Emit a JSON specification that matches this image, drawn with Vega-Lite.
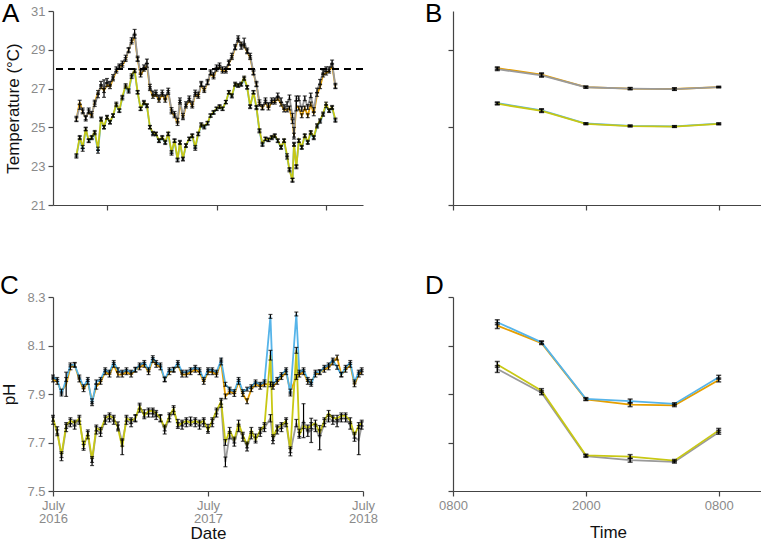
{
"$schema":"https://vega.github.io/schema/vega-lite/v6.json",
"padding":{"left":0,"top":0,"right":0,"bottom":0},
"columns":2,
"spacing":{"row":61,"column":47},
"config":{
 "font":"Liberation Sans",
 "view":{"stroke":null},
 "axis":{"grid":false,"domainColor":"#444","domainWidth":1.2,"tickColor":"#444","tickWidth":1.2,"tickSize":5,"labelColor":"#8a8a8a","labelFontSize":13,"labelFont":"Liberation Sans","titleFont":"Liberation Sans","titleFontSize":17,"titleFontWeight":"normal","titleColor":"#111","labelPadding":3,"labelOverlap":false},
 "title":{"fontSize":26,"fontWeight":"normal","anchor":"start","frame":"group","font":"Liberation Sans","color":"#000","offset":0}
},
"datasets":{
"temp":[
{"date":"2016-03-21","trt":"Heated","temp":25.4,"se":0.1},{"date":"2016-03-21","trt":"Acidified+Heated","temp":25.45,"se":0.12},{"date":"2016-03-21","trt":"Control","temp":23.5,"se":0.08},{"date":"2016-03-21","trt":"Acidified","temp":23.56,"se":0.08},
{"date":"2016-04-01","trt":"Heated","temp":26.3,"se":0.1},{"date":"2016-04-01","trt":"Acidified+Heated","temp":26.05,"se":0.12},{"date":"2016-04-01","trt":"Control","temp":24.45,"se":0.08},{"date":"2016-04-01","trt":"Acidified","temp":24.5,"se":0.08},
{"date":"2016-04-11","trt":"Heated","temp":25.8,"se":0.1},{"date":"2016-04-11","trt":"Acidified+Heated","temp":25.88,"se":0.12},{"date":"2016-04-11","trt":"Control","temp":23.85,"se":0.08},{"date":"2016-04-11","trt":"Acidified","temp":23.99,"se":0.08},
{"date":"2016-04-21","trt":"Heated","temp":25.5,"se":0.1},{"date":"2016-04-21","trt":"Acidified+Heated","temp":25.45,"se":0.12},{"date":"2016-04-21","trt":"Control","temp":24.9,"se":0.08},{"date":"2016-04-21","trt":"Acidified","temp":24.93,"se":0.08},
{"date":"2016-05-01","trt":"Heated","temp":25.8,"se":0.1},{"date":"2016-05-01","trt":"Acidified+Heated","temp":25.88,"se":0.12},{"date":"2016-05-01","trt":"Control","temp":24.3,"se":0.08},{"date":"2016-05-01","trt":"Acidified","temp":24.33,"se":0.08},
{"date":"2016-05-11","trt":"Heated","temp":25.6,"se":0.1},{"date":"2016-05-11","trt":"Acidified+Heated","temp":25.7,"se":0.12},{"date":"2016-05-11","trt":"Control","temp":24.45,"se":0.08},{"date":"2016-05-11","trt":"Acidified","temp":24.5,"se":0.08},
{"date":"2016-05-21","trt":"Heated","temp":26.3,"se":0.1},{"date":"2016-05-21","trt":"Acidified+Heated","temp":26.2,"se":0.12},{"date":"2016-05-21","trt":"Control","temp":24.7,"se":0.08},{"date":"2016-05-21","trt":"Acidified","temp":24.76,"se":0.08},
{"date":"2016-06-01","trt":"Heated","temp":26.8,"se":0.1},{"date":"2016-06-01","trt":"Acidified+Heated","temp":26.65,"se":0.12},{"date":"2016-06-01","trt":"Control","temp":23.75,"se":0.08},{"date":"2016-06-01","trt":"Acidified","temp":23.9,"se":0.08},
{"date":"2016-06-11","trt":"Heated","temp":27.1,"se":0.1},{"date":"2016-06-11","trt":"Acidified+Heated","temp":27.25,"se":0.12},{"date":"2016-06-11","trt":"Control","temp":25.4,"se":0.08},{"date":"2016-06-11","trt":"Acidified","temp":25.45,"se":0.08},
{"date":"2016-06-21","trt":"Heated","temp":26.9,"se":0.1},{"date":"2016-06-21","trt":"Acidified+Heated","temp":27.0,"se":0.45},{"date":"2016-06-21","trt":"Control","temp":25.0,"se":0.08},{"date":"2016-06-21","trt":"Acidified","temp":25.02,"se":0.08},
{"date":"2016-07-01","trt":"Heated","temp":27.2,"se":0.1},{"date":"2016-07-01","trt":"Acidified+Heated","temp":27.4,"se":0.12},{"date":"2016-07-01","trt":"Control","temp":25.5,"se":0.08},{"date":"2016-07-01","trt":"Acidified","temp":25.54,"se":0.08},
{"date":"2016-07-11","trt":"Heated","temp":27.1,"se":0.1},{"date":"2016-07-11","trt":"Acidified+Heated","temp":27.25,"se":0.12},{"date":"2016-07-11","trt":"Control","temp":25.25,"se":0.08},{"date":"2016-07-11","trt":"Acidified","temp":25.28,"se":0.08},
{"date":"2016-07-21","trt":"Heated","temp":27.5,"se":0.1},{"date":"2016-07-21","trt":"Acidified+Heated","temp":27.6,"se":0.12},{"date":"2016-07-21","trt":"Control","temp":25.6,"se":0.08},{"date":"2016-07-21","trt":"Acidified","temp":25.62,"se":0.08},
{"date":"2016-08-01","trt":"Heated","temp":27.9,"se":0.1},{"date":"2016-08-01","trt":"Acidified+Heated","temp":28.0,"se":0.12},{"date":"2016-08-01","trt":"Control","temp":26.15,"se":0.08},{"date":"2016-08-01","trt":"Acidified","temp":26.22,"se":0.08},
{"date":"2016-08-11","trt":"Heated","temp":28.1,"se":0.1},{"date":"2016-08-11","trt":"Acidified+Heated","temp":28.15,"se":0.12},{"date":"2016-08-11","trt":"Control","temp":25.85,"se":0.08},{"date":"2016-08-11","trt":"Acidified","temp":25.88,"se":0.08},
{"date":"2016-08-21","trt":"Heated","temp":28.2,"se":0.1},{"date":"2016-08-21","trt":"Acidified+Heated","temp":28.3,"se":0.12},{"date":"2016-08-21","trt":"Control","temp":26.5,"se":0.08},{"date":"2016-08-21","trt":"Acidified","temp":26.57,"se":0.08},
{"date":"2016-09-01","trt":"Heated","temp":28.5,"se":0.1},{"date":"2016-09-01","trt":"Acidified+Heated","temp":28.6,"se":0.12},{"date":"2016-09-01","trt":"Control","temp":27.1,"se":0.08},{"date":"2016-09-01","trt":"Acidified","temp":27.17,"se":0.08},
{"date":"2016-09-11","trt":"Heated","temp":29.0,"se":0.1},{"date":"2016-09-11","trt":"Acidified+Heated","temp":28.97,"se":0.12},{"date":"2016-09-11","trt":"Control","temp":26.85,"se":0.08},{"date":"2016-09-11","trt":"Acidified","temp":26.91,"se":0.08},
{"date":"2016-09-21","trt":"Heated","temp":29.4,"se":0.1},{"date":"2016-09-21","trt":"Acidified+Heated","temp":29.5,"se":0.12},{"date":"2016-09-21","trt":"Control","temp":27.6,"se":0.08},{"date":"2016-09-21","trt":"Acidified","temp":27.68,"se":0.08},
{"date":"2016-10-01","trt":"Heated","temp":29.7,"se":0.1},{"date":"2016-10-01","trt":"Acidified+Heated","temp":29.9,"se":0.15},{"date":"2016-10-01","trt":"Control","temp":27.9,"se":0.08},{"date":"2016-10-01","trt":"Acidified","temp":27.94,"se":0.08},
{"date":"2016-10-11","trt":"Heated","temp":28.5,"se":0.1},{"date":"2016-10-11","trt":"Acidified+Heated","temp":28.55,"se":0.12},{"date":"2016-10-11","trt":"Control","temp":26.8,"se":0.08},{"date":"2016-10-11","trt":"Acidified","temp":26.82,"se":0.08},
{"date":"2016-10-21","trt":"Heated","temp":27.7,"se":0.1},{"date":"2016-10-21","trt":"Acidified+Heated","temp":27.85,"se":0.12},{"date":"2016-10-21","trt":"Control","temp":25.95,"se":0.08},{"date":"2016-10-21","trt":"Acidified","temp":25.97,"se":0.08},
{"date":"2016-11-01","trt":"Heated","temp":28.0,"se":0.1},{"date":"2016-11-01","trt":"Acidified+Heated","temp":28.1,"se":0.12},{"date":"2016-11-01","trt":"Control","temp":26.25,"se":0.08},{"date":"2016-11-01","trt":"Acidified","temp":26.31,"se":0.08},
{"date":"2016-11-11","trt":"Heated","temp":28.2,"se":0.1},{"date":"2016-11-11","trt":"Acidified+Heated","temp":28.4,"se":0.12},{"date":"2016-11-11","trt":"Control","temp":26.1,"se":0.08},{"date":"2016-11-11","trt":"Acidified","temp":26.14,"se":0.08},
{"date":"2016-11-21","trt":"Heated","temp":27.0,"se":0.1},{"date":"2016-11-21","trt":"Acidified+Heated","temp":27.1,"se":0.12},{"date":"2016-11-21","trt":"Control","temp":25.0,"se":0.08},{"date":"2016-11-21","trt":"Acidified","temp":25.02,"se":0.08},
{"date":"2016-12-01","trt":"Heated","temp":26.6,"se":0.1},{"date":"2016-12-01","trt":"Acidified+Heated","temp":26.75,"se":0.12},{"date":"2016-12-01","trt":"Control","temp":24.65,"se":0.08},{"date":"2016-12-01","trt":"Acidified","temp":24.71,"se":0.08},
{"date":"2016-12-11","trt":"Heated","temp":26.7,"se":0.1},{"date":"2016-12-11","trt":"Acidified+Heated","temp":26.8,"se":0.12},{"date":"2016-12-11","trt":"Control","temp":24.65,"se":0.08},{"date":"2016-12-11","trt":"Acidified","temp":24.68,"se":0.08},
{"date":"2016-12-21","trt":"Heated","temp":26.4,"se":0.1},{"date":"2016-12-21","trt":"Acidified+Heated","temp":26.55,"se":0.12},{"date":"2016-12-21","trt":"Control","temp":24.3,"se":0.08},{"date":"2016-12-21","trt":"Acidified","temp":24.33,"se":0.08},
{"date":"2017-01-01","trt":"Heated","temp":26.7,"se":0.1},{"date":"2017-01-01","trt":"Acidified+Heated","temp":26.8,"se":0.12},{"date":"2017-01-01","trt":"Control","temp":24.45,"se":0.08},{"date":"2017-01-01","trt":"Acidified","temp":24.5,"se":0.08},
{"date":"2017-01-11","trt":"Heated","temp":26.4,"se":0.1},{"date":"2017-01-11","trt":"Acidified+Heated","temp":26.55,"se":0.12},{"date":"2017-01-11","trt":"Control","temp":24.2,"se":0.08},{"date":"2017-01-11","trt":"Acidified","temp":24.25,"se":0.08},
{"date":"2017-01-21","trt":"Heated","temp":26.8,"se":0.1},{"date":"2017-01-21","trt":"Acidified+Heated","temp":26.9,"se":0.12},{"date":"2017-01-21","trt":"Control","temp":24.65,"se":0.08},{"date":"2017-01-21","trt":"Acidified","temp":24.68,"se":0.08},
{"date":"2017-02-01","trt":"Heated","temp":25.8,"se":0.1},{"date":"2017-02-01","trt":"Acidified+Heated","temp":25.9,"se":0.12},{"date":"2017-02-01","trt":"Control","temp":23.65,"se":0.08},{"date":"2017-02-01","trt":"Acidified","temp":23.73,"se":0.08},
{"date":"2017-02-11","trt":"Heated","temp":25.6,"se":0.1},{"date":"2017-02-11","trt":"Acidified+Heated","temp":25.7,"se":0.12},{"date":"2017-02-11","trt":"Control","temp":24.3,"se":0.08},{"date":"2017-02-11","trt":"Acidified","temp":24.33,"se":0.08},
{"date":"2017-02-21","trt":"Heated","temp":25.2,"se":0.1},{"date":"2017-02-21","trt":"Acidified+Heated","temp":25.35,"se":0.12},{"date":"2017-02-21","trt":"Control","temp":23.3,"se":0.08},{"date":"2017-02-21","trt":"Acidified","temp":23.34,"se":0.08},
{"date":"2017-03-01","trt":"Heated","temp":26.3,"se":0.1},{"date":"2017-03-01","trt":"Acidified+Heated","temp":26.4,"se":0.12},{"date":"2017-03-01","trt":"Control","temp":24.2,"se":0.08},{"date":"2017-03-01","trt":"Acidified","temp":24.25,"se":0.08},
{"date":"2017-03-11","trt":"Heated","temp":25.5,"se":0.1},{"date":"2017-03-11","trt":"Acidified+Heated","temp":25.6,"se":0.12},{"date":"2017-03-11","trt":"Control","temp":23.35,"se":0.08},{"date":"2017-03-11","trt":"Acidified","temp":23.39,"se":0.08},
{"date":"2017-03-21","trt":"Heated","temp":26.1,"se":0.1},{"date":"2017-03-21","trt":"Acidified+Heated","temp":26.2,"se":0.12},{"date":"2017-03-21","trt":"Control","temp":24.05,"se":0.08},{"date":"2017-03-21","trt":"Acidified","temp":24.08,"se":0.08},
{"date":"2017-04-01","trt":"Heated","temp":26.4,"se":0.1},{"date":"2017-04-01","trt":"Acidified+Heated","temp":26.5,"se":0.12},{"date":"2017-04-01","trt":"Control","temp":24.4,"se":0.08},{"date":"2017-04-01","trt":"Acidified","temp":24.42,"se":0.08},
{"date":"2017-04-11","trt":"Heated","temp":26.1,"se":0.1},{"date":"2017-04-11","trt":"Acidified+Heated","temp":26.2,"se":0.12},{"date":"2017-04-11","trt":"Control","temp":24.55,"se":0.08},{"date":"2017-04-11","trt":"Acidified","temp":24.59,"se":0.08},
{"date":"2017-04-21","trt":"Heated","temp":26.7,"se":0.1},{"date":"2017-04-21","trt":"Acidified+Heated","temp":26.8,"se":0.12},{"date":"2017-04-21","trt":"Control","temp":23.9,"se":0.08},{"date":"2017-04-21","trt":"Acidified","temp":23.99,"se":0.08},
{"date":"2017-05-01","trt":"Heated","temp":26.6,"se":0.1},{"date":"2017-05-01","trt":"Acidified+Heated","temp":26.7,"se":0.12},{"date":"2017-05-01","trt":"Control","temp":24.65,"se":0.08},{"date":"2017-05-01","trt":"Acidified","temp":24.68,"se":0.08},
{"date":"2017-05-11","trt":"Heated","temp":27.2,"se":0.1},{"date":"2017-05-11","trt":"Acidified+Heated","temp":27.25,"se":0.12},{"date":"2017-05-11","trt":"Control","temp":25.1,"se":0.08},{"date":"2017-05-11","trt":"Acidified","temp":25.16,"se":0.08},
{"date":"2017-05-21","trt":"Heated","temp":26.9,"se":0.1},{"date":"2017-05-21","trt":"Acidified+Heated","temp":27.0,"se":0.12},{"date":"2017-05-21","trt":"Control","temp":25.0,"se":0.08},{"date":"2017-05-21","trt":"Acidified","temp":25.05,"se":0.08},
{"date":"2017-06-01","trt":"Heated","temp":27.3,"se":0.1},{"date":"2017-06-01","trt":"Acidified+Heated","temp":27.35,"se":0.12},{"date":"2017-06-01","trt":"Control","temp":25.2,"se":0.08},{"date":"2017-06-01","trt":"Acidified","temp":25.23,"se":0.08},
{"date":"2017-06-11","trt":"Heated","temp":27.8,"se":0.1},{"date":"2017-06-11","trt":"Acidified+Heated","temp":27.85,"se":0.12},{"date":"2017-06-11","trt":"Control","temp":25.6,"se":0.08},{"date":"2017-06-11","trt":"Acidified","temp":25.62,"se":0.08},
{"date":"2017-06-21","trt":"Heated","temp":27.6,"se":0.1},{"date":"2017-06-21","trt":"Acidified+Heated","temp":27.7,"se":0.12},{"date":"2017-06-21","trt":"Control","temp":25.75,"se":0.08},{"date":"2017-06-21","trt":"Acidified","temp":25.79,"se":0.08},
{"date":"2017-07-01","trt":"Heated","temp":28.0,"se":0.1},{"date":"2017-07-01","trt":"Acidified+Heated","temp":28.1,"se":0.12},{"date":"2017-07-01","trt":"Control","temp":25.95,"se":0.08},{"date":"2017-07-01","trt":"Acidified","temp":25.97,"se":0.08},
{"date":"2017-07-11","trt":"Heated","temp":28.1,"se":0.1},{"date":"2017-07-11","trt":"Acidified+Heated","temp":28.2,"se":0.12},{"date":"2017-07-11","trt":"Control","temp":26.05,"se":0.08},{"date":"2017-07-11","trt":"Acidified","temp":26.09,"se":0.08},
{"date":"2017-07-21","trt":"Heated","temp":27.9,"se":0.1},{"date":"2017-07-21","trt":"Acidified+Heated","temp":28.0,"se":0.12},{"date":"2017-07-21","trt":"Control","temp":25.95,"se":0.08},{"date":"2017-07-21","trt":"Acidified","temp":25.97,"se":0.08},
{"date":"2017-08-01","trt":"Heated","temp":27.9,"se":0.1},{"date":"2017-08-01","trt":"Acidified+Heated","temp":28.0,"se":0.12},{"date":"2017-08-01","trt":"Control","temp":26.3,"se":0.08},{"date":"2017-08-01","trt":"Acidified","temp":26.31,"se":0.08},
{"date":"2017-08-11","trt":"Heated","temp":28.3,"se":0.1},{"date":"2017-08-11","trt":"Acidified+Heated","temp":28.35,"se":0.12},{"date":"2017-08-11","trt":"Control","temp":26.8,"se":0.08},{"date":"2017-08-11","trt":"Acidified","temp":26.82,"se":0.08},
{"date":"2017-08-21","trt":"Heated","temp":28.6,"se":0.1},{"date":"2017-08-21","trt":"Acidified+Heated","temp":28.7,"se":0.12},{"date":"2017-08-21","trt":"Control","temp":26.6,"se":0.08},{"date":"2017-08-21","trt":"Acidified","temp":26.65,"se":0.08},
{"date":"2017-09-01","trt":"Heated","temp":29.1,"se":0.1},{"date":"2017-09-01","trt":"Acidified+Heated","temp":29.15,"se":0.12},{"date":"2017-09-01","trt":"Control","temp":27.2,"se":0.08},{"date":"2017-09-01","trt":"Acidified","temp":27.25,"se":0.08},
{"date":"2017-09-11","trt":"Heated","temp":29.5,"se":0.1},{"date":"2017-09-11","trt":"Acidified+Heated","temp":29.6,"se":0.12},{"date":"2017-09-11","trt":"Control","temp":27.15,"se":0.08},{"date":"2017-09-11","trt":"Acidified","temp":27.17,"se":0.08},
{"date":"2017-09-21","trt":"Heated","temp":29.3,"se":0.1},{"date":"2017-09-21","trt":"Acidified+Heated","temp":29.15,"se":0.12},{"date":"2017-09-21","trt":"Control","temp":27.2,"se":0.08},{"date":"2017-09-21","trt":"Acidified","temp":27.25,"se":0.08},
{"date":"2017-10-01","trt":"Heated","temp":29.2,"se":0.1},{"date":"2017-10-01","trt":"Acidified+Heated","temp":29.4,"se":0.2},{"date":"2017-10-01","trt":"Control","temp":27.5,"se":0.08},{"date":"2017-10-01","trt":"Acidified","temp":27.56,"se":0.08},
{"date":"2017-10-11","trt":"Heated","temp":28.9,"se":0.1},{"date":"2017-10-11","trt":"Acidified+Heated","temp":28.97,"se":0.12},{"date":"2017-10-11","trt":"Control","temp":27.05,"se":0.08},{"date":"2017-10-11","trt":"Acidified","temp":27.08,"se":0.08},
{"date":"2017-10-21","trt":"Heated","temp":28.6,"se":0.1},{"date":"2017-10-21","trt":"Acidified+Heated","temp":28.7,"se":0.12},{"date":"2017-10-21","trt":"Control","temp":26.05,"se":0.08},{"date":"2017-10-21","trt":"Acidified","temp":26.09,"se":0.08},
{"date":"2017-11-01","trt":"Heated","temp":27.8,"se":0.1},{"date":"2017-11-01","trt":"Acidified+Heated","temp":27.85,"se":0.12},{"date":"2017-11-01","trt":"Control","temp":26.8,"se":0.08},{"date":"2017-11-01","trt":"Acidified","temp":26.82,"se":0.08},
{"date":"2017-11-11","trt":"Heated","temp":27.2,"se":0.1},{"date":"2017-11-11","trt":"Acidified+Heated","temp":27.25,"se":0.12},{"date":"2017-11-11","trt":"Control","temp":26.0,"se":0.08},{"date":"2017-11-11","trt":"Acidified","temp":26.05,"se":0.08},
{"date":"2017-11-21","trt":"Heated","temp":26.2,"se":0.1},{"date":"2017-11-21","trt":"Acidified+Heated","temp":26.3,"se":0.12},{"date":"2017-11-21","trt":"Control","temp":24.8,"se":0.08},{"date":"2017-11-21","trt":"Acidified","temp":24.85,"se":0.08},
{"date":"2017-12-01","trt":"Heated","temp":26.0,"se":0.1},{"date":"2017-12-01","trt":"Acidified+Heated","temp":26.05,"se":0.12},{"date":"2017-12-01","trt":"Control","temp":24.1,"se":0.08},{"date":"2017-12-01","trt":"Acidified","temp":24.16,"se":0.08},
{"date":"2017-12-11","trt":"Heated","temp":26.3,"se":0.1},{"date":"2017-12-11","trt":"Acidified+Heated","temp":26.4,"se":0.12},{"date":"2017-12-11","trt":"Control","temp":24.4,"se":0.08},{"date":"2017-12-11","trt":"Acidified","temp":24.42,"se":0.08},
{"date":"2017-12-21","trt":"Heated","temp":26.0,"se":0.1},{"date":"2017-12-21","trt":"Acidified+Heated","temp":26.15,"se":0.12},{"date":"2017-12-21","trt":"Control","temp":24.35,"se":0.08},{"date":"2017-12-21","trt":"Acidified","temp":24.37,"se":0.08},
{"date":"2018-01-01","trt":"Heated","temp":26.3,"se":0.1},{"date":"2018-01-01","trt":"Acidified+Heated","temp":26.4,"se":0.12},{"date":"2018-01-01","trt":"Control","temp":24.45,"se":0.08},{"date":"2018-01-01","trt":"Acidified","temp":24.5,"se":0.08},
{"date":"2018-01-11","trt":"Heated","temp":26.3,"se":0.1},{"date":"2018-01-11","trt":"Acidified+Heated","temp":26.4,"se":0.12},{"date":"2018-01-11","trt":"Control","temp":24.55,"se":0.08},{"date":"2018-01-11","trt":"Acidified","temp":24.59,"se":0.08},
{"date":"2018-01-21","trt":"Heated","temp":26.5,"se":0.1},{"date":"2018-01-21","trt":"Acidified+Heated","temp":26.65,"se":0.12},{"date":"2018-01-21","trt":"Control","temp":24.3,"se":0.08},{"date":"2018-01-21","trt":"Acidified","temp":24.33,"se":0.08},
{"date":"2018-02-01","trt":"Heated","temp":26.2,"se":0.1},{"date":"2018-02-01","trt":"Acidified+Heated","temp":26.4,"se":0.12},{"date":"2018-02-01","trt":"Control","temp":23.95,"se":0.08},{"date":"2018-02-01","trt":"Acidified","temp":23.99,"se":0.08},
{"date":"2018-02-11","trt":"Heated","temp":25.9,"se":0.1},{"date":"2018-02-11","trt":"Acidified+Heated","temp":26.05,"se":0.12},{"date":"2018-02-11","trt":"Control","temp":24.3,"se":0.08},{"date":"2018-02-11","trt":"Acidified","temp":24.33,"se":0.08},
{"date":"2018-02-21","trt":"Heated","temp":25.9,"se":0.1},{"date":"2018-02-21","trt":"Acidified+Heated","temp":26.2,"se":0.12},{"date":"2018-02-21","trt":"Control","temp":23.45,"se":0.08},{"date":"2018-02-21","trt":"Acidified","temp":23.56,"se":0.08},
{"date":"2018-03-01","trt":"Heated","temp":26.0,"se":0.1},{"date":"2018-03-01","trt":"Acidified+Heated","temp":26.55,"se":0.12},{"date":"2018-03-01","trt":"Control","temp":22.85,"se":0.08},{"date":"2018-03-01","trt":"Acidified","temp":22.79,"se":0.08},
{"date":"2018-03-11","trt":"Heated","temp":25.3,"se":0.1},{"date":"2018-03-11","trt":"Acidified+Heated","temp":25.6,"se":0.12},{"date":"2018-03-11","trt":"Control","temp":22.3,"se":0.08},{"date":"2018-03-11","trt":"Acidified","temp":22.27,"se":0.1},
{"date":"2018-03-16","trt":"Heated","temp":24.6,"se":0.1},{"date":"2018-03-16","trt":"Acidified+Heated","temp":24.7,"se":0.3},{"date":"2018-03-16","trt":"Control","temp":24.1,"se":0.08},{"date":"2018-03-16","trt":"Acidified","temp":24.15,"se":0.08},
{"date":"2018-03-24","trt":"Heated","temp":26.1,"se":0.25},{"date":"2018-03-24","trt":"Acidified+Heated","temp":26.5,"se":0.12},{"date":"2018-03-24","trt":"Control","temp":23.0,"se":0.08},{"date":"2018-03-24","trt":"Acidified","temp":22.95,"se":0.08},
{"date":"2018-04-01","trt":"Heated","temp":26.0,"se":0.1},{"date":"2018-04-01","trt":"Acidified+Heated","temp":26.5,"se":0.12},{"date":"2018-04-01","trt":"Control","temp":24.3,"se":0.08},{"date":"2018-04-01","trt":"Acidified","temp":24.33,"se":0.08},
{"date":"2018-04-11","trt":"Heated","temp":25.6,"se":0.1},{"date":"2018-04-11","trt":"Acidified+Heated","temp":25.95,"se":0.12},{"date":"2018-04-11","trt":"Control","temp":23.95,"se":0.08},{"date":"2018-04-11","trt":"Acidified","temp":23.99,"se":0.08},
{"date":"2018-04-21","trt":"Heated","temp":26.0,"se":0.1},{"date":"2018-04-21","trt":"Acidified+Heated","temp":26.5,"se":0.12},{"date":"2018-04-21","trt":"Control","temp":24.55,"se":0.08},{"date":"2018-04-21","trt":"Acidified","temp":24.59,"se":0.08},
{"date":"2018-05-01","trt":"Heated","temp":25.6,"se":0.1},{"date":"2018-05-01","trt":"Acidified+Heated","temp":26.05,"se":0.12},{"date":"2018-05-01","trt":"Control","temp":24.2,"se":0.08},{"date":"2018-05-01","trt":"Acidified","temp":24.25,"se":0.08},
{"date":"2018-05-11","trt":"Heated","temp":26.2,"se":0.1},{"date":"2018-05-11","trt":"Acidified+Heated","temp":26.65,"se":0.12},{"date":"2018-05-11","trt":"Control","temp":24.7,"se":0.08},{"date":"2018-05-11","trt":"Acidified","temp":24.76,"se":0.08},
{"date":"2018-05-21","trt":"Heated","temp":25.7,"se":0.1},{"date":"2018-05-21","trt":"Acidified+Heated","temp":25.9,"se":0.12},{"date":"2018-05-21","trt":"Control","temp":24.45,"se":0.08},{"date":"2018-05-21","trt":"Acidified","temp":24.5,"se":0.08},
{"date":"2018-06-01","trt":"Heated","temp":26.7,"se":0.1},{"date":"2018-06-01","trt":"Acidified+Heated","temp":26.9,"se":0.12},{"date":"2018-06-01","trt":"Control","temp":25.05,"se":0.08},{"date":"2018-06-01","trt":"Acidified","temp":25.11,"se":0.08},
{"date":"2018-06-11","trt":"Heated","temp":27.1,"se":0.1},{"date":"2018-06-11","trt":"Acidified+Heated","temp":27.35,"se":0.12},{"date":"2018-06-11","trt":"Control","temp":25.3,"se":0.08},{"date":"2018-06-11","trt":"Acidified","temp":25.36,"se":0.08},
{"date":"2018-06-21","trt":"Heated","temp":27.7,"se":0.1},{"date":"2018-06-21","trt":"Acidified+Heated","temp":27.85,"se":0.12},{"date":"2018-06-21","trt":"Control","temp":25.65,"se":0.08},{"date":"2018-06-21","trt":"Acidified","temp":25.71,"se":0.08},
{"date":"2018-07-01","trt":"Heated","temp":27.8,"se":0.1},{"date":"2018-07-01","trt":"Acidified+Heated","temp":28.0,"se":0.12},{"date":"2018-07-01","trt":"Control","temp":26.1,"se":0.08},{"date":"2018-07-01","trt":"Acidified","temp":26.22,"se":0.08},
{"date":"2018-07-11","trt":"Heated","temp":27.9,"se":0.1},{"date":"2018-07-11","trt":"Acidified+Heated","temp":28.0,"se":0.12},{"date":"2018-07-11","trt":"Control","temp":25.85,"se":0.08},{"date":"2018-07-11","trt":"Acidified","temp":25.88,"se":0.08},
{"date":"2018-07-21","trt":"Heated","temp":28.2,"se":0.1},{"date":"2018-07-21","trt":"Acidified+Heated","temp":28.35,"se":0.12},{"date":"2018-07-21","trt":"Control","temp":26.0,"se":0.08},{"date":"2018-07-21","trt":"Acidified","temp":26.05,"se":0.08},
{"date":"2018-08-01","trt":"Heated","temp":27.1,"se":0.1},{"date":"2018-08-01","trt":"Acidified+Heated","temp":27.15,"se":0.12},{"date":"2018-08-01","trt":"Control","temp":25.35,"se":0.08},{"date":"2018-08-01","trt":"Acidified","temp":25.4,"se":0.08}
],
"ph":[
{"date":"2016-07-01","trt":"Heated","pH":7.96,"se":0.01},{"date":"2016-07-01","trt":"Acidified+Heated","pH":7.79,"se":0.015},{"date":"2016-07-01","trt":"Control","pH":7.97,"se":0.008},{"date":"2016-07-01","trt":"Acidified","pH":7.8,"se":0.012},
{"date":"2016-07-11","trt":"Heated","pH":7.95,"se":0.01},{"date":"2016-07-11","trt":"Acidified+Heated","pH":7.75,"se":0.015},{"date":"2016-07-11","trt":"Control","pH":7.96,"se":0.008},{"date":"2016-07-11","trt":"Acidified","pH":7.74,"se":0.012},
{"date":"2016-07-21","trt":"Heated","pH":7.91,"se":0.01},{"date":"2016-07-21","trt":"Acidified+Heated","pH":7.64,"se":0.015},{"date":"2016-07-21","trt":"Control","pH":7.9,"se":0.008},{"date":"2016-07-21","trt":"Acidified","pH":7.65,"se":0.012},
{"date":"2016-08-01","trt":"Heated","pH":7.94,"se":0.05},{"date":"2016-08-01","trt":"Acidified+Heated","pH":7.76,"se":0.015},{"date":"2016-08-01","trt":"Control","pH":7.96,"se":0.008},{"date":"2016-08-01","trt":"Acidified","pH":7.77,"se":0.012},
{"date":"2016-08-11","trt":"Heated","pH":8.01,"se":0.01},{"date":"2016-08-11","trt":"Acidified+Heated","pH":7.78,"se":0.015},{"date":"2016-08-11","trt":"Control","pH":8.02,"se":0.008},{"date":"2016-08-11","trt":"Acidified","pH":7.79,"se":0.012},
{"date":"2016-08-21","trt":"Heated","pH":8.02,"se":0.01},{"date":"2016-08-21","trt":"Acidified+Heated","pH":7.77,"se":0.015},{"date":"2016-08-21","trt":"Control","pH":8.02,"se":0.008},{"date":"2016-08-21","trt":"Acidified","pH":7.78,"se":0.012},
{"date":"2016-09-01","trt":"Heated","pH":7.96,"se":0.01},{"date":"2016-09-01","trt":"Acidified+Heated","pH":7.79,"se":0.015},{"date":"2016-09-01","trt":"Control","pH":7.97,"se":0.008},{"date":"2016-09-01","trt":"Acidified","pH":7.8,"se":0.012},
{"date":"2016-09-11","trt":"Heated","pH":7.92,"se":0.01},{"date":"2016-09-11","trt":"Acidified+Heated","pH":7.69,"se":0.015},{"date":"2016-09-11","trt":"Control","pH":7.93,"se":0.008},{"date":"2016-09-11","trt":"Acidified","pH":7.68,"se":0.012},
{"date":"2016-09-21","trt":"Heated","pH":7.95,"se":0.01},{"date":"2016-09-21","trt":"Acidified+Heated","pH":7.73,"se":0.015},{"date":"2016-09-21","trt":"Control","pH":7.96,"se":0.008},{"date":"2016-09-21","trt":"Acidified","pH":7.74,"se":0.012},
{"date":"2016-10-01","trt":"Heated","pH":7.87,"se":0.01},{"date":"2016-10-01","trt":"Acidified+Heated","pH":7.62,"se":0.015},{"date":"2016-10-01","trt":"Control","pH":7.86,"se":0.008},{"date":"2016-10-01","trt":"Acidified","pH":7.63,"se":0.012},
{"date":"2016-10-11","trt":"Heated","pH":7.93,"se":0.01},{"date":"2016-10-11","trt":"Acidified+Heated","pH":7.75,"se":0.015},{"date":"2016-10-11","trt":"Control","pH":7.95,"se":0.008},{"date":"2016-10-11","trt":"Acidified","pH":7.76,"se":0.012},
{"date":"2016-10-21","trt":"Heated","pH":7.95,"se":0.01},{"date":"2016-10-21","trt":"Acidified+Heated","pH":7.74,"se":0.015},{"date":"2016-10-21","trt":"Control","pH":7.96,"se":0.008},{"date":"2016-10-21","trt":"Acidified","pH":7.75,"se":0.012},
{"date":"2016-11-01","trt":"Heated","pH":7.99,"se":0.01},{"date":"2016-11-01","trt":"Acidified+Heated","pH":7.79,"se":0.015},{"date":"2016-11-01","trt":"Control","pH":8.0,"se":0.008},{"date":"2016-11-01","trt":"Acidified","pH":7.8,"se":0.012},
{"date":"2016-11-11","trt":"Heated","pH":7.98,"se":0.01},{"date":"2016-11-11","trt":"Acidified+Heated","pH":7.8,"se":0.015},{"date":"2016-11-11","trt":"Control","pH":7.99,"se":0.008},{"date":"2016-11-11","trt":"Acidified","pH":7.81,"se":0.012},
{"date":"2016-11-21","trt":"Heated","pH":8.02,"se":0.01},{"date":"2016-11-21","trt":"Acidified+Heated","pH":7.79,"se":0.015},{"date":"2016-11-21","trt":"Control","pH":8.03,"se":0.008},{"date":"2016-11-21","trt":"Acidified","pH":7.8,"se":0.012},
{"date":"2016-12-01","trt":"Heated","pH":7.98,"se":0.01},{"date":"2016-12-01","trt":"Acidified+Heated","pH":7.77,"se":0.015},{"date":"2016-12-01","trt":"Control","pH":8.0,"se":0.008},{"date":"2016-12-01","trt":"Acidified","pH":7.76,"se":0.012},
{"date":"2016-12-11","trt":"Heated","pH":7.98,"se":0.01},{"date":"2016-12-11","trt":"Acidified+Heated","pH":7.7,"se":0.015},{"date":"2016-12-11","trt":"Control","pH":7.99,"se":0.008},{"date":"2016-12-11","trt":"Acidified","pH":7.68,"se":0.03},
{"date":"2016-12-21","trt":"Heated","pH":7.99,"se":0.01},{"date":"2016-12-21","trt":"Acidified+Heated","pH":7.79,"se":0.015},{"date":"2016-12-21","trt":"Control","pH":8.0,"se":0.008},{"date":"2016-12-21","trt":"Acidified","pH":7.8,"se":0.012},
{"date":"2017-01-01","trt":"Heated","pH":7.98,"se":0.01},{"date":"2017-01-01","trt":"Acidified+Heated","pH":7.78,"se":0.015},{"date":"2017-01-01","trt":"Control","pH":7.99,"se":0.008},{"date":"2017-01-01","trt":"Acidified","pH":7.79,"se":0.012},
{"date":"2017-01-11","trt":"Heated","pH":8.0,"se":0.01},{"date":"2017-01-11","trt":"Acidified+Heated","pH":7.8,"se":0.015},{"date":"2017-01-11","trt":"Control","pH":8.0,"se":0.008},{"date":"2017-01-11","trt":"Acidified","pH":7.8,"se":0.012},
{"date":"2017-01-21","trt":"Heated","pH":8.01,"se":0.01},{"date":"2017-01-21","trt":"Acidified+Heated","pH":7.84,"se":0.015},{"date":"2017-01-21","trt":"Control","pH":8.02,"se":0.008},{"date":"2017-01-21","trt":"Acidified","pH":7.85,"se":0.012},
{"date":"2017-02-01","trt":"Heated","pH":8.02,"se":0.01},{"date":"2017-02-01","trt":"Acidified+Heated","pH":7.82,"se":0.015},{"date":"2017-02-01","trt":"Control","pH":8.03,"se":0.008},{"date":"2017-02-01","trt":"Acidified","pH":7.81,"se":0.012},
{"date":"2017-02-11","trt":"Heated","pH":7.99,"se":0.01},{"date":"2017-02-11","trt":"Acidified+Heated","pH":7.82,"se":0.015},{"date":"2017-02-11","trt":"Control","pH":8.0,"se":0.008},{"date":"2017-02-11","trt":"Acidified","pH":7.83,"se":0.012},
{"date":"2017-02-21","trt":"Heated","pH":8.04,"se":0.01},{"date":"2017-02-21","trt":"Acidified+Heated","pH":7.82,"se":0.015},{"date":"2017-02-21","trt":"Control","pH":8.05,"se":0.008},{"date":"2017-02-21","trt":"Acidified","pH":7.83,"se":0.012},
{"date":"2017-03-01","trt":"Heated","pH":8.02,"se":0.01},{"date":"2017-03-01","trt":"Acidified+Heated","pH":7.81,"se":0.015},{"date":"2017-03-01","trt":"Control","pH":8.03,"se":0.008},{"date":"2017-03-01","trt":"Acidified","pH":7.82,"se":0.012},
{"date":"2017-03-11","trt":"Heated","pH":8.01,"se":0.01},{"date":"2017-03-11","trt":"Acidified+Heated","pH":7.8,"se":0.015},{"date":"2017-03-11","trt":"Control","pH":8.02,"se":0.008},{"date":"2017-03-11","trt":"Acidified","pH":7.8,"se":0.012},
{"date":"2017-03-21","trt":"Heated","pH":7.96,"se":0.01},{"date":"2017-03-21","trt":"Acidified+Heated","pH":7.75,"se":0.015},{"date":"2017-03-21","trt":"Control","pH":7.96,"se":0.008},{"date":"2017-03-21","trt":"Acidified","pH":7.76,"se":0.012},
{"date":"2017-04-01","trt":"Heated","pH":7.99,"se":0.01},{"date":"2017-04-01","trt":"Acidified+Heated","pH":7.8,"se":0.015},{"date":"2017-04-01","trt":"Control","pH":8.0,"se":0.008},{"date":"2017-04-01","trt":"Acidified","pH":7.81,"se":0.012},
{"date":"2017-04-11","trt":"Heated","pH":8.0,"se":0.01},{"date":"2017-04-11","trt":"Acidified+Heated","pH":7.83,"se":0.015},{"date":"2017-04-11","trt":"Control","pH":8.0,"se":0.008},{"date":"2017-04-11","trt":"Acidified","pH":7.84,"se":0.012},
{"date":"2017-04-21","trt":"Heated","pH":8.02,"se":0.01},{"date":"2017-04-21","trt":"Acidified+Heated","pH":7.78,"se":0.015},{"date":"2017-04-21","trt":"Control","pH":8.03,"se":0.008},{"date":"2017-04-21","trt":"Acidified","pH":7.77,"se":0.012},
{"date":"2017-05-01","trt":"Heated","pH":7.98,"se":0.01},{"date":"2017-05-01","trt":"Acidified+Heated","pH":7.77,"se":0.015},{"date":"2017-05-01","trt":"Control","pH":7.99,"se":0.008},{"date":"2017-05-01","trt":"Acidified","pH":7.78,"se":0.012},
{"date":"2017-05-11","trt":"Heated","pH":7.98,"se":0.01},{"date":"2017-05-11","trt":"Acidified+Heated","pH":7.78,"se":0.015},{"date":"2017-05-11","trt":"Control","pH":7.99,"se":0.008},{"date":"2017-05-11","trt":"Acidified","pH":7.79,"se":0.012},
{"date":"2017-05-21","trt":"Heated","pH":7.99,"se":0.01},{"date":"2017-05-21","trt":"Acidified+Heated","pH":7.79,"se":0.015},{"date":"2017-05-21","trt":"Control","pH":8.0,"se":0.008},{"date":"2017-05-21","trt":"Acidified","pH":7.78,"se":0.012},
{"date":"2017-06-01","trt":"Heated","pH":8.0,"se":0.01},{"date":"2017-06-01","trt":"Acidified+Heated","pH":7.78,"se":0.015},{"date":"2017-06-01","trt":"Control","pH":8.01,"se":0.008},{"date":"2017-06-01","trt":"Acidified","pH":7.79,"se":0.012},
{"date":"2017-06-11","trt":"Heated","pH":7.99,"se":0.01},{"date":"2017-06-11","trt":"Acidified+Heated","pH":7.77,"se":0.015},{"date":"2017-06-11","trt":"Control","pH":8.0,"se":0.008},{"date":"2017-06-11","trt":"Acidified","pH":7.78,"se":0.012},
{"date":"2017-06-21","trt":"Heated","pH":7.95,"se":0.01},{"date":"2017-06-21","trt":"Acidified+Heated","pH":7.78,"se":0.015},{"date":"2017-06-21","trt":"Control","pH":7.96,"se":0.008},{"date":"2017-06-21","trt":"Acidified","pH":7.79,"se":0.012},
{"date":"2017-07-01","trt":"Heated","pH":7.99,"se":0.01},{"date":"2017-07-01","trt":"Acidified+Heated","pH":7.76,"se":0.015},{"date":"2017-07-01","trt":"Control","pH":8.0,"se":0.008},{"date":"2017-07-01","trt":"Acidified","pH":7.75,"se":0.012},
{"date":"2017-07-11","trt":"Heated","pH":7.99,"se":0.01},{"date":"2017-07-11","trt":"Acidified+Heated","pH":7.78,"se":0.015},{"date":"2017-07-11","trt":"Control","pH":8.0,"se":0.008},{"date":"2017-07-11","trt":"Acidified","pH":7.79,"se":0.012},
{"date":"2017-07-21","trt":"Heated","pH":7.98,"se":0.01},{"date":"2017-07-21","trt":"Acidified+Heated","pH":7.82,"se":0.015},{"date":"2017-07-21","trt":"Control","pH":7.99,"se":0.008},{"date":"2017-07-21","trt":"Acidified","pH":7.83,"se":0.012},
{"date":"2017-08-01","trt":"Heated","pH":8.03,"se":0.01},{"date":"2017-08-01","trt":"Acidified+Heated","pH":7.86,"se":0.015},{"date":"2017-08-01","trt":"Control","pH":8.04,"se":0.008},{"date":"2017-08-01","trt":"Acidified","pH":7.87,"se":0.012},
{"date":"2017-08-11","trt":"Heated","pH":7.89,"se":0.01},{"date":"2017-08-11","trt":"Acidified+Heated","pH":7.62,"se":0.02},{"date":"2017-08-11","trt":"Control","pH":7.94,"se":0.008},{"date":"2017-08-11","trt":"Acidified","pH":7.7,"se":0.012},
{"date":"2017-08-21","trt":"Heated","pH":7.91,"se":0.01},{"date":"2017-08-21","trt":"Acidified+Heated","pH":7.73,"se":0.015},{"date":"2017-08-21","trt":"Control","pH":7.92,"se":0.008},{"date":"2017-08-21","trt":"Acidified","pH":7.75,"se":0.012},
{"date":"2017-09-01","trt":"Heated","pH":7.9,"se":0.01},{"date":"2017-09-01","trt":"Acidified+Heated","pH":7.7,"se":0.015},{"date":"2017-09-01","trt":"Control","pH":7.91,"se":0.008},{"date":"2017-09-01","trt":"Acidified","pH":7.71,"se":0.012},
{"date":"2017-09-11","trt":"Heated","pH":7.95,"se":0.01},{"date":"2017-09-11","trt":"Acidified+Heated","pH":7.76,"se":0.015},{"date":"2017-09-11","trt":"Control","pH":7.96,"se":0.008},{"date":"2017-09-11","trt":"Acidified","pH":7.78,"se":0.012},
{"date":"2017-09-21","trt":"Heated","pH":7.9,"se":0.01},{"date":"2017-09-21","trt":"Acidified+Heated","pH":7.72,"se":0.015},{"date":"2017-09-21","trt":"Control","pH":7.91,"se":0.008},{"date":"2017-09-21","trt":"Acidified","pH":7.73,"se":0.012},
{"date":"2017-10-01","trt":"Heated","pH":7.87,"se":0.01},{"date":"2017-10-01","trt":"Acidified+Heated","pH":7.68,"se":0.015},{"date":"2017-10-01","trt":"Control","pH":7.92,"se":0.008},{"date":"2017-10-01","trt":"Acidified","pH":7.69,"se":0.012},
{"date":"2017-10-11","trt":"Heated","pH":7.92,"se":0.01},{"date":"2017-10-11","trt":"Acidified+Heated","pH":7.73,"se":0.015},{"date":"2017-10-11","trt":"Control","pH":7.93,"se":0.008},{"date":"2017-10-11","trt":"Acidified","pH":7.75,"se":0.012},
{"date":"2017-10-21","trt":"Heated","pH":7.94,"se":0.01},{"date":"2017-10-21","trt":"Acidified+Heated","pH":7.72,"se":0.015},{"date":"2017-10-21","trt":"Control","pH":7.95,"se":0.008},{"date":"2017-10-21","trt":"Acidified","pH":7.71,"se":0.012},
{"date":"2017-11-01","trt":"Heated","pH":7.93,"se":0.01},{"date":"2017-11-01","trt":"Acidified+Heated","pH":7.74,"se":0.015},{"date":"2017-11-01","trt":"Control","pH":7.94,"se":0.008},{"date":"2017-11-01","trt":"Acidified","pH":7.75,"se":0.012},
{"date":"2017-11-11","trt":"Heated","pH":7.94,"se":0.01},{"date":"2017-11-11","trt":"Acidified+Heated","pH":7.76,"se":0.015},{"date":"2017-11-11","trt":"Control","pH":7.95,"se":0.008},{"date":"2017-11-11","trt":"Acidified","pH":7.77,"se":0.012},
{"date":"2017-11-25","trt":"Heated","pH":7.94,"se":0.01},{"date":"2017-11-25","trt":"Acidified+Heated","pH":7.8,"se":0.015},{"date":"2017-11-25","trt":"Control","pH":8.22,"se":0.008},{"date":"2017-11-25","trt":"Acidified","pH":8.06,"se":0.02},
{"date":"2017-12-01","trt":"Heated","pH":7.93,"se":0.01},{"date":"2017-12-01","trt":"Acidified+Heated","pH":7.71,"se":0.015},{"date":"2017-12-01","trt":"Control","pH":7.94,"se":0.008},{"date":"2017-12-01","trt":"Acidified","pH":7.72,"se":0.012},
{"date":"2017-12-11","trt":"Heated","pH":7.95,"se":0.01},{"date":"2017-12-11","trt":"Acidified+Heated","pH":7.75,"se":0.015},{"date":"2017-12-11","trt":"Control","pH":7.96,"se":0.008},{"date":"2017-12-11","trt":"Acidified","pH":7.76,"se":0.012},
{"date":"2017-12-21","trt":"Heated","pH":7.97,"se":0.01},{"date":"2017-12-21","trt":"Acidified+Heated","pH":7.76,"se":0.015},{"date":"2017-12-21","trt":"Control","pH":7.98,"se":0.008},{"date":"2017-12-21","trt":"Acidified","pH":7.77,"se":0.012},
{"date":"2018-01-01","trt":"Heated","pH":7.99,"se":0.01},{"date":"2018-01-01","trt":"Acidified+Heated","pH":7.78,"se":0.015},{"date":"2018-01-01","trt":"Control","pH":8.0,"se":0.008},{"date":"2018-01-01","trt":"Acidified","pH":7.79,"se":0.012},
{"date":"2018-01-11","trt":"Heated","pH":7.91,"se":0.01},{"date":"2018-01-11","trt":"Acidified+Heated","pH":7.66,"se":0.015},{"date":"2018-01-11","trt":"Control","pH":7.9,"se":0.008},{"date":"2018-01-11","trt":"Acidified","pH":7.67,"se":0.012},
{"date":"2018-01-25","trt":"Heated","pH":7.97,"se":0.01},{"date":"2018-01-25","trt":"Acidified+Heated","pH":7.78,"se":0.015},{"date":"2018-01-25","trt":"Control","pH":8.23,"se":0.008},{"date":"2018-01-25","trt":"Acidified","pH":8.08,"se":0.012},
{"date":"2018-02-01","trt":"Heated","pH":7.98,"se":0.01},{"date":"2018-02-01","trt":"Acidified+Heated","pH":7.74,"se":0.015},{"date":"2018-02-01","trt":"Control","pH":7.99,"se":0.008},{"date":"2018-02-01","trt":"Acidified","pH":7.73,"se":0.012},
{"date":"2018-02-11","trt":"Heated","pH":7.99,"se":0.01},{"date":"2018-02-11","trt":"Acidified+Heated","pH":7.79,"se":0.07},{"date":"2018-02-11","trt":"Control","pH":8.0,"se":0.008},{"date":"2018-02-11","trt":"Acidified","pH":7.77,"se":0.012},
{"date":"2018-02-21","trt":"Heated","pH":7.95,"se":0.01},{"date":"2018-02-21","trt":"Acidified+Heated","pH":7.74,"se":0.015},{"date":"2018-02-21","trt":"Control","pH":7.96,"se":0.008},{"date":"2018-02-21","trt":"Acidified","pH":7.76,"se":0.012},
{"date":"2018-03-01","trt":"Heated","pH":7.95,"se":0.01},{"date":"2018-03-01","trt":"Acidified+Heated","pH":7.75,"se":0.05},{"date":"2018-03-01","trt":"Control","pH":7.94,"se":0.008},{"date":"2018-03-01","trt":"Acidified","pH":7.77,"se":0.012},
{"date":"2018-03-11","trt":"Heated","pH":7.98,"se":0.01},{"date":"2018-03-11","trt":"Acidified+Heated","pH":7.76,"se":0.015},{"date":"2018-03-11","trt":"Control","pH":7.99,"se":0.008},{"date":"2018-03-11","trt":"Acidified","pH":7.78,"se":0.012},
{"date":"2018-03-21","trt":"Heated","pH":7.99,"se":0.01},{"date":"2018-03-21","trt":"Acidified+Heated","pH":7.72,"se":0.05},{"date":"2018-03-21","trt":"Control","pH":7.99,"se":0.008},{"date":"2018-03-21","trt":"Acidified","pH":7.74,"se":0.012},
{"date":"2018-04-01","trt":"Heated","pH":8.0,"se":0.01},{"date":"2018-04-01","trt":"Acidified+Heated","pH":7.78,"se":0.015},{"date":"2018-04-01","trt":"Control","pH":8.01,"se":0.008},{"date":"2018-04-01","trt":"Acidified","pH":7.79,"se":0.012},
{"date":"2018-04-11","trt":"Heated","pH":8.01,"se":0.01},{"date":"2018-04-11","trt":"Acidified+Heated","pH":7.8,"se":0.015},{"date":"2018-04-11","trt":"Control","pH":8.02,"se":0.008},{"date":"2018-04-11","trt":"Acidified","pH":7.82,"se":0.012},
{"date":"2018-04-21","trt":"Heated","pH":8.03,"se":0.01},{"date":"2018-04-21","trt":"Acidified+Heated","pH":7.79,"se":0.015},{"date":"2018-04-21","trt":"Control","pH":8.04,"se":0.008},{"date":"2018-04-21","trt":"Acidified","pH":7.8,"se":0.012},
{"date":"2018-05-01","trt":"Heated","pH":8.05,"se":0.01},{"date":"2018-05-01","trt":"Acidified+Heated","pH":7.78,"se":0.015},{"date":"2018-05-01","trt":"Control","pH":8.01,"se":0.008},{"date":"2018-05-01","trt":"Acidified","pH":7.8,"se":0.012},
{"date":"2018-05-11","trt":"Heated","pH":7.98,"se":0.01},{"date":"2018-05-11","trt":"Acidified+Heated","pH":7.8,"se":0.015},{"date":"2018-05-11","trt":"Control","pH":7.98,"se":0.008},{"date":"2018-05-11","trt":"Acidified","pH":7.81,"se":0.012},
{"date":"2018-05-21","trt":"Heated","pH":8.0,"se":0.01},{"date":"2018-05-21","trt":"Acidified+Heated","pH":7.8,"se":0.015},{"date":"2018-05-21","trt":"Control","pH":8.01,"se":0.008},{"date":"2018-05-21","trt":"Acidified","pH":7.81,"se":0.012},
{"date":"2018-06-01","trt":"Heated","pH":8.02,"se":0.01},{"date":"2018-06-01","trt":"Acidified+Heated","pH":7.77,"se":0.015},{"date":"2018-06-01","trt":"Control","pH":8.03,"se":0.008},{"date":"2018-06-01","trt":"Acidified","pH":7.79,"se":0.012},
{"date":"2018-06-11","trt":"Heated","pH":7.94,"se":0.01},{"date":"2018-06-11","trt":"Acidified+Heated","pH":7.72,"se":0.015},{"date":"2018-06-11","trt":"Control","pH":7.95,"se":0.008},{"date":"2018-06-11","trt":"Acidified","pH":7.73,"se":0.012},
{"date":"2018-06-21","trt":"Heated","pH":7.98,"se":0.01},{"date":"2018-06-21","trt":"Acidified+Heated","pH":7.71,"se":0.06},{"date":"2018-06-21","trt":"Control","pH":7.99,"se":0.008},{"date":"2018-06-21","trt":"Acidified","pH":7.77,"se":0.012},
{"date":"2018-06-28","trt":"Heated","pH":7.99,"se":0.01},{"date":"2018-06-28","trt":"Acidified+Heated","pH":7.77,"se":0.015},{"date":"2018-06-28","trt":"Control","pH":8.0,"se":0.008},{"date":"2018-06-28","trt":"Acidified","pH":7.78,"se":0.012}
],
"tempDiel":[
{"h":4,"trt":"Heated","temp":28.05,"se":0.07},{"h":4,"trt":"Acidified+Heated","temp":28.0,"se":0.07},{"h":4,"trt":"Control","temp":26.25,"se":0.06},{"h":4,"trt":"Acidified","temp":26.22,"se":0.06},
{"h":8,"trt":"Heated","temp":27.72,"se":0.09},{"h":8,"trt":"Acidified+Heated","temp":27.68,"se":0.09},{"h":8,"trt":"Control","temp":25.88,"se":0.08},{"h":8,"trt":"Acidified","temp":25.85,"se":0.08},
{"h":12,"trt":"Heated","temp":27.08,"se":0.05},{"h":12,"trt":"Acidified+Heated","temp":27.07,"se":0.05},{"h":12,"trt":"Control","temp":25.2,"se":0.04},{"h":12,"trt":"Acidified","temp":25.18,"se":0.04},
{"h":16,"trt":"Heated","temp":27.0,"se":0.05},{"h":16,"trt":"Acidified+Heated","temp":27.0,"se":0.05},{"h":16,"trt":"Control","temp":25.08,"se":0.04},{"h":16,"trt":"Acidified","temp":25.07,"se":0.04},
{"h":20,"trt":"Heated","temp":26.98,"se":0.06},{"h":20,"trt":"Acidified+Heated","temp":26.97,"se":0.06},{"h":20,"trt":"Control","temp":25.05,"se":0.04},{"h":20,"trt":"Acidified","temp":25.04,"se":0.04},
{"h":24,"trt":"Heated","temp":27.08,"se":0.03},{"h":24,"trt":"Acidified+Heated","temp":27.08,"se":0.03},{"h":24,"trt":"Control","temp":25.19,"se":0.04},{"h":24,"trt":"Acidified","temp":25.18,"se":0.04}
],
"phDiel":[
{"h":4,"trt":"Heated","pH":8.182,"se":0.012},{"h":4,"trt":"Acidified+Heated","pH":8.003,"se":0.014},{"h":4,"trt":"Control","pH":8.196,"se":0.01},{"h":4,"trt":"Acidified","pH":8.022,"se":0.012},
{"h":8,"trt":"Heated","pH":8.11,"se":0.006},{"h":8,"trt":"Acidified+Heated","pH":7.905,"se":0.008},{"h":8,"trt":"Control","pH":8.113,"se":0.006},{"h":8,"trt":"Acidified","pH":7.914,"se":0.008},
{"h":12,"trt":"Heated","pH":7.878,"se":0.005},{"h":12,"trt":"Acidified+Heated","pH":7.644,"se":0.005},{"h":12,"trt":"Control","pH":7.88,"se":0.005},{"h":12,"trt":"Acidified","pH":7.647,"se":0.005},
{"h":16,"trt":"Heated","pH":7.856,"se":0.008},{"h":16,"trt":"Acidified+Heated","pH":7.627,"se":0.008},{"h":16,"trt":"Control","pH":7.871,"se":0.008},{"h":16,"trt":"Acidified","pH":7.642,"se":0.008},
{"h":20,"trt":"Heated","pH":7.853,"se":0.005},{"h":20,"trt":"Acidified+Heated","pH":7.62,"se":0.005},{"h":20,"trt":"Control","pH":7.859,"se":0.005},{"h":20,"trt":"Acidified","pH":7.625,"se":0.005},
{"h":24,"trt":"Heated","pH":7.958,"se":0.008},{"h":24,"trt":"Acidified+Heated","pH":7.742,"se":0.008},{"h":24,"trt":"Control","pH":7.969,"se":0.008},{"h":24,"trt":"Acidified","pH":7.75,"se":0.008}
]
},
"concat":[
{
 "width":310,"height":194,
 "title":{"text":"A","dx":-51,"dy":25.5},
 "data":{"name":"temp"},
 "layer":[
  {"mark":{"type":"line","strokeWidth":1.8},
   "encoding":{
    "x":{"field":"date","type":"temporal","scale":{"domain":[{"year":2016,"month":1,"date":3},{"year":2018,"month":11,"date":1}]},"axis":{"values":[{"year":2016,"month":7,"date":1},{"year":2017,"month":7,"date":1},{"year":2018,"month":7,"date":1}],"labels":false,"title":null}},
    "y":{"field":"temp","type":"quantitative","title":"Temperature (°C)","scale":{"domain":[21,31]},"axis":{"values":[21,23,25,27,29,31],"labelOverlap":false,"titlePadding":8}},
    "color":{"field":"trt","type":"nominal","scale":{"domain":["Heated","Acidified+Heated","Control","Acidified"],"range":["#E69F00","#9a9a9a","#56B4E9","#C8C814"]},"legend":null}}},
  {"mark":{"type":"errorbar","ticks":true,"size":4,"thickness":1.2,"color":"#000"},
   "encoding":{"x":{"field":"date","type":"temporal"},"y":{"field":"temp","type":"quantitative","title":"Temperature (°C)","axis":{"values":[21,23,25,27,29,31],"labelOverlap":false,"titlePadding":8}},"yError":{"field":"se"}}},
  {"mark":{"type":"rule","strokeDash":[7,5],"strokeWidth":1.6,"color":"#000"},"encoding":{"y":{"datum":28,"type":"quantitative","axis":{"values":[21,23,25,27,29,31],"labelOverlap":false,"titlePadding":8}}}}
 ]
},
{
 "width":310,"height":194,
 "title":{"text":"B","dx":-28,"dy":20},
 "data":{"name":"tempDiel"},
 "layer":[
  {"mark":{"type":"line","strokeWidth":1.8},
   "encoding":{
    "x":{"field":"h","type":"quantitative","scale":{"domain":[0,28]},"axis":{"values":[0,12,24],"labels":false,"title":null}},
    "y":{"field":"temp","type":"quantitative","scale":{"domain":[21,31]},"axis":{"values":[21,23,25,27,29,31],"labels":false,"title":null}},
    "color":{"field":"trt","type":"nominal","scale":{"domain":["Heated","Acidified+Heated","Control","Acidified"],"range":["#E69F00","#9a9a9a","#56B4E9","#C8C814"]},"legend":null}}},
  {"mark":{"type":"errorbar","ticks":true,"size":5,"thickness":1.5,"color":"#000"},
   "encoding":{"x":{"field":"h","type":"quantitative"},"y":{"field":"temp","type":"quantitative"},"yError":{"field":"se"}}}
 ]
},
{
 "width":310,"height":194,
 "title":{"text":"C","dx":-53,"dy":12},
 "data":{"name":"ph"},
 "layer":[
  {"mark":{"type":"line","strokeWidth":1.8},
   "encoding":{
    "x":{"field":"date","type":"temporal","title":"Date","scale":{"domain":[{"year":2016,"month":7,"date":1},{"year":2018,"month":7,"date":1}]},"axis":{"values":[{"year":2016,"month":7,"date":1},{"year":2017,"month":7,"date":1},{"year":2018,"month":7,"date":1}],"labelExpr":"['July', timeFormat(datum.value, '%Y')]","labelFlush":false,"labelLineHeight":13,"titlePadding":0}},
    "y":{"field":"pH","type":"quantitative","title":"pH","scale":{"domain":[7.5,8.3]},"axis":{"values":[7.5,7.7,7.9,8.1,8.3],"format":".1f","labelOverlap":false,"titlePadding":8}},
    "color":{"field":"trt","type":"nominal","scale":{"domain":["Heated","Acidified+Heated","Control","Acidified"],"range":["#E69F00","#9a9a9a","#56B4E9","#C8C814"]},"legend":null}}},
  {"mark":{"type":"errorbar","ticks":true,"size":4,"thickness":1.2,"color":"#000"},
   "encoding":{"x":{"field":"date","type":"temporal","title":"Date"},"y":{"field":"pH","type":"quantitative","title":"pH"},"yError":{"field":"se"}}}
 ]
},
{
 "width":310,"height":194,
 "title":{"text":"D","dx":-28,"dy":7},
 "data":{"name":"phDiel"},
 "layer":[
  {"mark":{"type":"line","strokeWidth":1.8},
   "encoding":{
    "x":{"field":"h","type":"quantitative","title":"Time","scale":{"domain":[0,28]},"axis":{"values":[0,12,24],"labelExpr":"datum.value == 12 ? '2000' : '0800'","labelFlush":false,"titlePadding":12}},
    "y":{"field":"pH","type":"quantitative","scale":{"domain":[7.5,8.3]},"axis":{"values":[7.5,7.7,7.9,8.1,8.3],"labels":false,"title":null}},
    "color":{"field":"trt","type":"nominal","scale":{"domain":["Heated","Acidified+Heated","Control","Acidified"],"range":["#E69F00","#9a9a9a","#56B4E9","#C8C814"]},"legend":null}}},
  {"mark":{"type":"errorbar","ticks":true,"size":5,"thickness":1.5,"color":"#000"},
   "encoding":{"x":{"field":"h","type":"quantitative","title":"Time"},"y":{"field":"pH","type":"quantitative"},"yError":{"field":"se"}}}
 ]
}
]
}
